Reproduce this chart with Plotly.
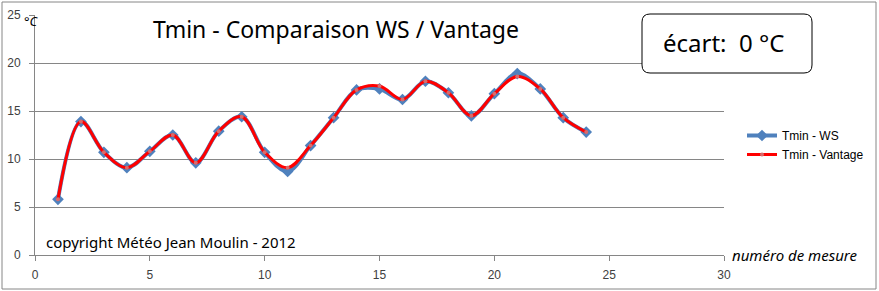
import plotly.graph_objects as go

mesure = list(range(1, 25))
tmin_ws = [5.8, 13.9, 10.7, 9.1, 10.8, 12.5, 9.6, 12.9, 14.4, 10.7, 8.7, 11.4,
           14.3, 17.2, 17.3, 16.2, 18.1, 16.9, 14.5, 16.8, 18.9, 17.3, 14.3, 12.8]
tmin_vantage = [5.8, 13.9, 10.7, 9.1, 10.8, 12.5, 9.6, 12.9, 14.4, 10.7, 9.1, 11.4,
                14.3, 17.2, 17.6, 16.2, 18.1, 16.9, 14.5, 16.8, 18.6, 17.3, 14.3, 12.8]
x_ticks = [0, 5, 10, 15, 20, 25, 30]
y_ticks = [0, 5, 10, 15, 20, 25]

W, H = 879, 291
L, R, T, B = 35, 724, 15, 255
PW, PH = R - L, B - T


def px(x):
    return (x - L) / PW


def py(y):
    return (B - y) / PH


hand = "Comic Sans MS, Noto Sans, sans-serif"
tickfont = dict(family="Liberation Sans, Arial, sans-serif", size=12, color="#404040")

fig = go.Figure()
fig.add_trace(go.Scatter(
    x=mesure, y=tmin_ws, name="Tmin - WS", mode="lines+markers",
    line=dict(color="#4F81BD", width=4, shape="spline", smoothing=1.0),
    marker=dict(symbol="diamond", size=9, color="#4F81BD"),
))
fig.add_trace(go.Scatter(
    x=mesure, y=tmin_vantage, name="Tmin - Vantage", mode="lines+markers",
    line=dict(color="#FF0000", width=3, shape="spline", smoothing=1.0),
    marker=dict(symbol="circle", size=4, color="#D96B6B"),
))

fig.update_layout(
    width=W, height=H,
    margin=dict(l=L, r=W - R, t=T, b=H - B, autoexpand=False),
    paper_bgcolor="white", plot_bgcolor="white",
    showlegend=True,
    legend=dict(xref="container", yref="container", x=742 / W, y=1 - 145 / H,
                xanchor="left", yanchor="middle",
                font=dict(family="Liberation Sans, Arial, sans-serif", size=12, color="#000000"),
                bgcolor="rgba(0,0,0,0)", tracegroupgap=0, itemwidth=30),
    xaxis=dict(range=[0, 30], tickvals=x_ticks, showgrid=False, zeroline=False,
               showline=True, linecolor="#868686", linewidth=1, automargin=False,
               ticks="outside", ticklen=5, tickcolor="#868686", tickfont=tickfont,
               ticklabelstandoff=4),
    yaxis=dict(range=[0, 25], tickvals=y_ticks, showgrid=True, gridcolor="#868686",
               gridwidth=1, zeroline=False, showline=True, linecolor="#868686",
               linewidth=1, ticks="outside", ticklen=5, tickcolor="#868686",
               tickfont=tickfont, ticklabelstandoff=6, automargin=False),
)

# outer chart border
fig.add_shape(type="rect", xref="paper", yref="paper",
              x0=px(2), x1=px(876), y0=py(289), y1=py(2),
              line=dict(color="#868686", width=1), fillcolor="rgba(0,0,0,0)", layer="below")

# écart box (rounded)
bx0, bx1 = px(642), px(812)
by0, by1 = py(73), py(14)
r = 8 / PW
ry = 8 / PH
path = (f"M {bx0 + r},{by1} L {bx1 - r},{by1} Q {bx1},{by1} {bx1},{by1 - ry} "
        f"L {bx1},{by0 + ry} Q {bx1},{by0} {bx1 - r},{by0} L {bx0 + r},{by0} "
        f"Q {bx0},{by0} {bx0},{by0 + ry} L {bx0},{by1 - ry} Q {bx0},{by1} {bx0 + r},{by1} Z")
fig.add_shape(type="path", xref="paper", yref="paper", path=path,
              line=dict(color="black", width=1), fillcolor="white")

fig.add_annotation(xref="paper", yref="paper", x=px(723), y=py(42),
                   text="écart:  0 °C", showarrow=False, xanchor="center", yanchor="middle",
                   font=dict(family=hand, size=24, color="black"))

fig.add_annotation(xref="paper", yref="paper", x=px(336), y=py(29),
                   text="Tmin - Comparaison WS / Vantage", showarrow=False,
                   xanchor="center", yanchor="middle",
                   font=dict(family=hand, size=23, color="black"))

fig.add_annotation(xref="paper", yref="paper", x=px(44), y=py(242),
                   text="copyright Météo Jean Moulin - 2012", showarrow=False,
                   xanchor="left", yanchor="middle",
                   font=dict(family=hand, size=15, color="black"))

fig.add_annotation(xref="paper", yref="paper", x=px(730), y=py(255),
                   text="<i>numéro de mesure</i>", showarrow=False,
                   xanchor="left", yanchor="middle",
                   font=dict(family=hand, size=15, color="black"))

fig.add_annotation(xref="paper", yref="paper", x=px(22), y=py(21),
                   text="<i>°C</i>", showarrow=False, xanchor="left", yanchor="middle",
                   font=dict(family=hand, size=13, color="black"))

fig.write_html(
    "out.html",
    post_script="document.body.style.margin='0';",
)
